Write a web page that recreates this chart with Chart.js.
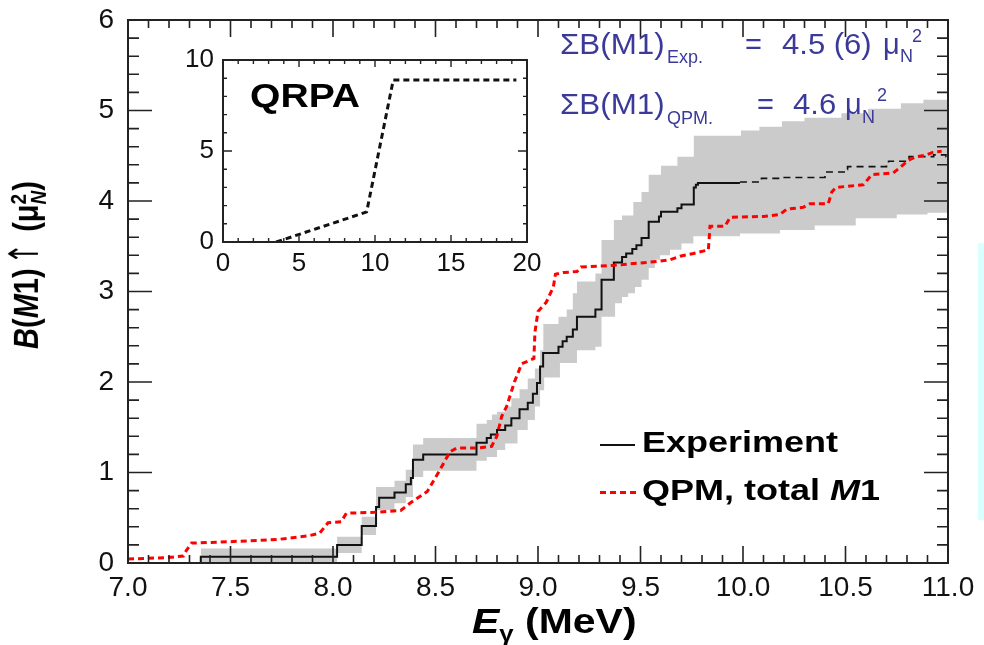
<!DOCTYPE html>
<html><head><meta charset="utf-8">
<script src="https://cdn.jsdelivr.net/npm/chart.js@4.4.0/dist/chart.umd.min.js"></script>
<style>
html,body{margin:0;padding:0;background:#fff;}
#wrap{position:relative;width:984px;height:645px;overflow:hidden;font-family:"Liberation Sans",Arial,sans-serif;}
canvas{position:absolute;}
.a{position:absolute;line-height:1;white-space:pre;transform-origin:0 0;}
.blue{color:#3b3a98;}
</style></head>
<body>
<div id="wrap">
<canvas id="main" width="984" height="645" style="left:0;top:0"></canvas>
<canvas id="inset" width="380" height="240" style="left:170px;top:40px"></canvas>

<!-- annotations -->
<div class="a blue" style="left:560px;top:30px;font-size:29px;transform:scaleX(1.08)">ΣB(M1)</div>
<div class="a blue" style="left:667px;top:48px;font-size:18px">Exp.</div>
<div class="a blue" style="left:745px;top:30px;font-size:29px">=</div>
<div class="a blue" style="left:782px;top:30px;font-size:29px;transform:scaleX(1.07)">4.5 (6)</div>
<div class="a blue" style="left:883px;top:30px;font-size:29px">μ</div>
<div class="a blue" style="left:900px;top:47px;font-size:18px">N</div>
<div class="a blue" style="left:912px;top:27px;font-size:18px">2</div>

<div class="a blue" style="left:560px;top:90px;font-size:29px;transform:scaleX(1.08)">ΣB(M1)</div>
<div class="a blue" style="left:667px;top:109px;font-size:18px">QPM.</div>
<div class="a blue" style="left:757px;top:90px;font-size:29px">=</div>
<div class="a blue" style="left:793px;top:90px;font-size:29px;transform:scaleX(1.07)">4.6</div>
<div class="a blue" style="left:845px;top:90px;font-size:29px">μ</div>
<div class="a blue" style="left:862px;top:108px;font-size:18px">N</div>
<div class="a blue" style="left:877px;top:86px;font-size:18px">2</div>

<!-- inset label -->
<div class="a" style="left:250px;top:78px;font-size:34px;font-weight:bold;transform:scaleX(1.15);color:#000">QRPA</div>

<!-- legend -->
<div style="position:absolute;left:600px;top:444px;width:35px;height:1.5px;background:#111"></div>
<div style="position:absolute;left:600px;top:491px;width:37px;height:3px;background:repeating-linear-gradient(to right,#ff0000 0 6px,transparent 6px 10px)"></div>
<div class="a" style="left:642px;top:427px;font-size:30px;font-weight:bold;transform:scaleX(1.2);color:#000">Experiment</div>
<div class="a" style="left:642px;top:475px;font-size:30px;font-weight:bold;transform:scaleX(1.2);color:#000">QPM, total <i>M</i>1</div>

<!-- axis titles -->
<div class="a" style="left:472px;top:603px;font-size:35px;font-weight:bold;transform:scaleX(1.17);color:#000"><i>E</i><span style="font-size:22px;position:relative;top:8px">γ</span> (MeV)</div>
<div class="a" style="left:26px;top:265px;font-size:29px;color:#000;transform-origin:50% 50%;transform:translate(-50%,-50%) rotate(-90deg) scaleY(1.2)"><b><i>B</i>(<i>M</i>1)</b><span style="font-weight:normal;font-size:34px;font-family:'DejaVu Sans';display:inline-block;transform:scaleX(0.75)">↑</span> <b>(μ<span style="display:inline-block;vertical-align:middle;line-height:0.85;font-size:19px;text-align:left"><span style="display:block">2</span><span style="display:block"><i>N</i></span></span>)</b></div>

<div style="position:absolute;left:978px;top:243px;width:6px;height:277px;background:#d9ffff"></div>
</div>

<script>
// ---------------- data ----------------
// Experiment: cumulative B(M1) (solid part)
const expX = [7.0, 7.355, 8.02, 8.14, 8.21, 8.225, 8.30, 8.355, 8.38, 8.39,
              8.44, 8.70, 8.75, 8.77, 8.80, 8.84, 8.87, 8.91, 8.95, 8.975,
              8.995, 9.01, 9.025, 9.10, 9.12, 9.14, 9.17, 9.19, 9.28, 9.31,
              9.37, 9.41, 9.43, 9.46, 9.48, 9.505, 9.54, 9.59, 9.60, 9.68,
              9.70, 9.76, 9.77, 9.78, 9.985];
const expY = [0, 0.07, 0.20, 0.41, 0.62, 0.72, 0.78, 0.87, 0.94, 1.14,
              1.20, 1.33, 1.38, 1.42, 1.47, 1.52, 1.60, 1.70, 1.77, 1.87,
              1.99, 2.17, 2.32, 2.39, 2.45, 2.50, 2.58, 2.72, 2.80, 3.13,
              3.32, 3.38, 3.42, 3.47, 3.51, 3.59, 3.77, 3.83, 3.88, 3.92,
              3.96, 4.15, 4.18, 4.20, 4.20];
// Experiment: dashed continuation above 10 MeV
const expDashX = [9.985, 10.09, 10.18, 10.40, 10.50, 10.51, 10.70, 10.71, 10.81, 10.93, 10.99, 11.0];
const expDashY = [4.21, 4.25, 4.26, 4.32, 4.35, 4.38, 4.42, 4.44, 4.49, 4.51, 4.49, 0];
// Experimental uncertainty band
const bandHiX = [7.355, 8.02, 8.14, 8.21, 8.30, 8.355, 8.39, 8.44, 8.70, 8.75,
                 8.775, 8.80, 8.84, 8.87, 8.91, 8.95, 8.985, 9.01, 9.026, 9.10,
                 9.14, 9.17, 9.19, 9.28, 9.31, 9.37, 9.41, 9.465, 9.505, 9.54,
                 9.60, 9.68, 9.76, 9.99, 10.08, 10.19, 10.30, 10.48, 10.61, 10.77,
                 10.88, 11.0];
const bandHiY = [0.16, 0.29, 0.51, 0.84, 0.91, 1.03, 1.31, 1.38, 1.54, 1.58,
                 1.64, 1.67, 1.73, 1.82, 1.92, 2.04, 2.15, 2.35, 2.64, 2.72,
                 2.80, 2.98, 3.11, 3.20, 3.57, 3.79, 3.84, 3.99, 4.10, 4.29,
                 4.39, 4.49, 4.72, 4.78, 4.82, 4.88, 4.92, 4.97, 5.02, 5.08,
                 5.12, 5.12];
const bandLoX = [7.355, 8.02, 8.14, 8.21, 8.30, 8.355, 8.39, 8.44, 8.70, 8.75,
                 8.80, 8.84, 8.90, 8.95, 8.985, 9.01, 9.03, 9.107, 9.19, 9.28,
                 9.31, 9.376, 9.41, 9.44, 9.473, 9.505, 9.54, 9.57, 9.595, 9.644,
                 9.70, 9.758, 9.985, 10.18, 10.35, 10.55, 10.75, 10.90, 11.0];
const bandLoY = [0.0, 0.11, 0.31, 0.585, 0.66, 0.73, 0.95, 1.02, 1.13, 1.17,
                 1.25, 1.32, 1.47, 1.58, 1.73, 1.91, 2.05, 2.21, 2.35, 2.39,
                 2.72, 2.87, 2.94, 2.98, 3.05, 3.13, 3.26, 3.35, 3.40, 3.46,
                 3.53, 3.61, 3.64, 3.68, 3.73, 3.81, 3.85, 3.87, 3.87];
// QPM, total M1 (red dotted)
const qpmX = [7.0, 7.195, 7.27, 7.285, 7.31, 7.49, 7.73, 7.88, 7.935, 7.976,
              8.04, 8.065, 8.20, 8.33, 8.375, 8.46, 8.522, 8.571, 8.603, 8.70,
              8.774, 8.799, 8.823, 8.847, 8.885, 8.92, 8.98, 8.985, 9.00, 9.04,
              9.075, 9.085, 9.125, 9.19, 9.21, 9.37, 9.53, 9.644, 9.693, 9.758,
              9.831, 9.839, 9.912, 9.937, 10.10, 10.18, 10.213, 10.294, 10.327, 10.416,
              10.433, 10.454, 10.587, 10.628, 10.733, 10.766, 10.806, 10.847, 10.896, 10.928,
              10.969];
const qpmY = [0.044, 0.06, 0.077, 0.14, 0.22, 0.235, 0.26, 0.30, 0.33, 0.445,
              0.456, 0.55, 0.56, 0.58, 0.66, 0.79, 1.03, 1.23, 1.27, 1.27,
              1.29, 1.40, 1.62, 1.73, 2.00, 2.20, 2.26, 2.55, 2.78, 2.88,
              3.05, 3.19, 3.21, 3.22, 3.27, 3.29, 3.32, 3.35, 3.39, 3.42,
              3.46, 3.72, 3.72, 3.82, 3.83, 3.85, 3.91, 3.93, 3.97, 3.97,
              4.10, 4.15, 4.18, 4.29, 4.31, 4.37, 4.45, 4.49, 4.51, 4.54,
              4.55];
// Inset: QRPA
const qrpaX = [3.5, 9.45, 11.2, 19.3];
const qrpaY = [0, 1.65, 8.9, 8.9];

// tick labels
const mainXTicks = [7.0, 7.5, 8.0, 8.5, 9.0, 9.5, 10.0, 10.5, 11.0];
const mainYTicks = [0, 1, 2, 3, 4, 5, 6];
const insetXTicks = [0, 5, 10, 15, 20];
const insetYTicks = [0, 5, 10];

// ---------------- helpers ----------------
const pts = (X, Y) => X.map((x, i) => ({x, y: Y[i]}));
const FONT = '"Liberation Sans", Arial, sans-serif';
const noPad = s => { s.paddingTop = 0; s.paddingBottom = 0; s.paddingLeft = 0; s.paddingRight = 0; };

function frameTicks(id, s) {
  return {
    id,
    afterDatasetsDraw(chart) {
      const {ctx, chartArea: a} = chart;
      const x = chart.scales.x, y = chart.scales.y;
      ctx.save();
      ctx.strokeStyle = '#222';
      ctx.lineWidth = s.tickWidth;
      ctx.beginPath();
      const nx = Math.round((x.max - x.min) / s.xMinor);
      for (let i = 0; i <= nx; i++) {
        const px = x.getPixelForValue(x.min + i * s.xMinor);
        const L = (i % s.xEvery === 0) ? s.xMaj : s.xMin;
        ctx.moveTo(px, a.bottom); ctx.lineTo(px, a.bottom - L);
        ctx.moveTo(px, a.top); ctx.lineTo(px, a.top + L);
      }
      const ny = Math.round((y.max - y.min) / s.yMinor);
      for (let i = 0; i <= ny; i++) {
        const py = y.getPixelForValue(y.min + i * s.yMinor);
        const L = (i % s.yEvery === 0) ? s.yMaj : s.yMin;
        ctx.moveTo(a.left, py); ctx.lineTo(a.left + L, py);
        ctx.moveTo(a.right, py); ctx.lineTo(a.right - L, py);
      }
      ctx.stroke();
      ctx.lineWidth = s.frameWidth;
      ctx.strokeRect(a.left, a.top, a.right - a.left, a.bottom - a.top);
      ctx.restore();
    }
  };
}

// ---------------- main chart ----------------
new Chart(document.getElementById('main'), {
  type: 'line',
  data: {
    datasets: [
      {label: 'bandHi', data: pts(bandHiX, bandHiY), stepped: true, borderWidth: 0,
       pointRadius: 0, fill: false, order: 10},
      {label: 'bandLo', data: pts(bandLoX, bandLoY), stepped: true, borderWidth: 0,
       pointRadius: 0, fill: {target: 0}, backgroundColor: '#cbcbcb', order: 9},
      {label: 'Experiment', data: pts(expX, expY), stepped: true, borderColor: '#111',
       borderWidth: 2, pointRadius: 0, fill: false, order: 2},
      {label: 'Experiment (cont.)', data: pts(expDashX, expDashY), stepped: true, borderColor: '#111',
       borderWidth: 1.6, borderDash: [7, 5], pointRadius: 0, fill: false, order: 2},
      {label: 'QPM, total M1', data: pts(qpmX, qpmY), borderColor: '#ff0000',
       borderWidth: 3, borderDash: [6, 4], pointRadius: 0, fill: false, tension: 0, order: 1}
    ]
  },
  options: {
    responsive: false, animation: false, devicePixelRatio: 1,
    layout: {padding: {left: 0, top: 20, right: 36, bottom: 0}},
    plugins: {legend: {display: false}, tooltip: {enabled: false}},
    scales: {
      x: {type: 'linear', min: 7, max: 11,
          afterFit(s) { s.height = 82; noPad(s); },
          afterBuildTicks(s) { s.ticks = mainXTicks.map(v => ({value: v})); },
          ticks: {callback: v => Number(v).toFixed(1), color: '#111', padding: 8,
                  font: {family: FONT, size: 28}, maxRotation: 0, autoSkip: false},
          grid: {display: false, drawTicks: false}, border: {display: false}},
      y: {type: 'linear', min: 0, max: 6,
          afterFit(s) { s.width = 128; noPad(s); },
          afterBuildTicks(s) { s.ticks = mainYTicks.map(v => ({value: v})); },
          ticks: {color: '#111', padding: 14, font: {family: FONT, size: 28}, autoSkip: false},
          grid: {display: false, drawTicks: false}, border: {display: false}}
    }
  },
  plugins: [frameTicks('mainFrame', {tickWidth: 1.6, frameWidth: 2,
    xMinor: 0.1, xEvery: 5, xMaj: 17, xMin: 8,
    yMinor: 0.2, yEvery: 5, yMaj: 24, yMin: 11})]
});

// ---------------- inset ----------------
new Chart(document.getElementById('inset'), {
  type: 'line',
  data: {
    datasets: [
      {label: 'QRPA', data: pts(qrpaX, qrpaY), borderColor: '#111', borderWidth: 3,
       borderDash: [6, 4], pointRadius: 0, fill: false, tension: 0}
    ]
  },
  options: {
    responsive: false, animation: false, devicePixelRatio: 1,
    layout: {padding: {left: 0, top: 20, right: 23, bottom: 0}},
    plugins: {legend: {display: false}, tooltip: {enabled: false}},
    scales: {
      x: {type: 'linear', min: 0, max: 20,
          afterFit(s) { s.height = 38; noPad(s); },
          afterBuildTicks(s) { s.ticks = insetXTicks.map(v => ({value: v})); },
          ticks: {color: '#111', padding: 6, font: {family: FONT, size: 26}, maxRotation: 0, autoSkip: false},
          grid: {display: false, drawTicks: false}, border: {display: false}},
      y: {type: 'linear', min: 0, max: 10,
          afterFit(s) { s.width = 53; noPad(s); },
          afterBuildTicks(s) { s.ticks = insetYTicks.map(v => ({value: v})); },
          ticks: {color: '#111', padding: 9, font: {family: FONT, size: 26}, autoSkip: false},
          grid: {display: false, drawTicks: false}, border: {display: false}}
    }
  },
  plugins: [frameTicks('insetFrame', {tickWidth: 1.4, frameWidth: 2,
    xMinor: 1, xEvery: 5, xMaj: 7, xMin: 4,
    yMinor: 1, yEvery: 5, yMaj: 9, yMin: 4})]
});
</script>
</body></html>
